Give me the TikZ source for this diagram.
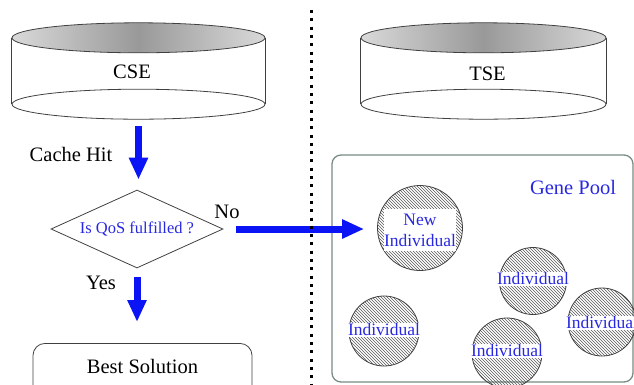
\documentclass[tikz,border=0pt]{standalone}
\usepackage{fontspec}
\setmainfont{Liberation Serif}
\usetikzlibrary{arrows.meta,shapes.geometric,patterns}
\definecolor{arrowblue}{RGB}{10,20,245}
\definecolor{txtblue}{RGB}{40,40,225}
\definecolor{poolgray}{RGB}{120,140,130}
\begin{document}
\begin{tikzpicture}[x=1pt,y=-1pt,
  bigtxt/.style={font=\fontsize{20.5}{22}\selectfont, inner sep=0pt},
  cylline/.style={draw=black!75, line width=0.8pt},
  cylbody/.style={minimum width=#1, minimum height=66pt, inner sep=0pt},
  cyltop/.style={left color=gray!30, right color=gray!30, middle color=gray!80},
  bigarrow/.style={draw=arrowblue, line width=7pt, -{Triangle[length=22pt,width=18pt]}},
  ind/.style={circle, draw=black!75, line width=0.8pt, pattern=north west lines, pattern color=black!65, inner sep=0pt},
  indtxt/.style={fill=white, text=txtblue, inner xsep=0.5pt, inner ysep=1pt, font=\fontsize{17.5}{21}\selectfont},
]
\useasboundingbox (0,0) rectangle (634,384);
\clip (0,0) rectangle (634,384);

% CSE cylinder
\node[cylbody=253pt] (cse) at (138.5,71) {};
\shade[cyltop] (cse.north) ellipse [x radius=126.5pt, y radius=15pt];
\draw[cylline] (cse.north) ellipse [x radius=126.5pt, y radius=15pt];
\draw[cylline] (cse.south) ellipse [x radius=126.5pt, y radius=15pt];
\draw[cylline] (cse.north west) -- (cse.south west) (cse.north east) -- (cse.south east);
\node[bigtxt] (csetxt) at (132,72) {CSE};

% TSE cylinder
\node[cylbody=245pt] (tse) at (483.5,71) {};
\shade[cyltop] (tse.north) ellipse [x radius=122.5pt, y radius=15pt];
\draw[cylline] (tse.north) ellipse [x radius=122.5pt, y radius=15pt];
\draw[cylline] (tse.south) ellipse [x radius=122.5pt, y radius=15pt];
\draw[cylline] (tse.north west) -- (tse.south west) (tse.north east) -- (tse.south east);
\node[bigtxt] (tsetxt) at (487.5,74) {TSE};

% decision
\node[diamond, draw=black!75, line width=0.8pt, aspect=2.2, minimum width=172pt, minimum height=78pt,
      inner sep=0pt, text=txtblue, font=\fontsize{16.5}{18}\selectfont] (q) at (137,229) {Is QoS fulfilled ?};

% best solution
\node[draw=black!75, line width=0.8pt, rounded corners=12pt, minimum width=219pt, anchor=north,
      bigtxt, text height=14pt, text depth=24pt, inner ysep=16pt] (best) at (142.5,343) {Best Solution};

% labels
\node[bigtxt] (hit) at (71,154) {Cache Hit};
\node[bigtxt] (no) at (227,212) {No};
\node[bigtxt] (yes) at (101,283) {Yes};

% gene pool
\node[draw=poolgray, line width=1.3pt, rounded corners=9pt, minimum width=301pt, minimum height=227pt, inner sep=0pt] (pool) at (482.5,268.5) {};
\node[bigtxt, text=txtblue] (gp) at (573,187) {Gene Pool};

\node[ind, minimum size=85pt] (new) at (420,228) {};
\node[indtxt, align=center, inner ysep=5pt] (newt) at (420,230) {New\\Individual};
\node[ind, minimum size=67pt] (i1) at (533,281) {};
\node[indtxt] (i1t) at (533,279) {Individual};
\node[ind, minimum size=70pt] (i2) at (384,331) {};
\node[indtxt] (i2t) at (384,330) {Individual};
\node[ind, minimum size=70pt] (i3) at (507,353) {};
\node[indtxt] (i3t) at (507,351) {Individual};
\node[ind, minimum size=68pt] (i4) at (602,322) {};
\node[indtxt] (i4t) at (602,323) {Individual};

% arrows
\draw[bigarrow, shorten <=22pt, shorten >=10pt] (cse.south) -- (cse.south |- q.north);
\draw[bigarrow, shorten <=9pt, shorten >=21pt] (q.south) -- (q.south |- best.north);
\draw[bigarrow, shorten <=13pt, shorten >=13pt] (q.east) -- (q.east -| new.west);

% divider
\draw[line width=3pt, dash pattern=on 3pt off 5.3pt] (311,10) -- (311,384);
\end{tikzpicture}
\end{document}
